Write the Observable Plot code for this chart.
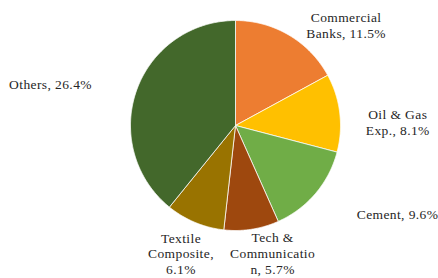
<!DOCTYPE html>
<html><head><meta charset="utf-8">
<script src="https://cdn.jsdelivr.net/npm/d3@7"></script>
<script src="https://cdn.jsdelivr.net/npm/@observablehq/plot@0.6"></script>
<style>body{margin:0;background:#fff;} svg{display:block;} svg text{font-family:"Liberation Serif","Times New Roman",serif !important;}</style>
</head><body><div id="chart"></div>
<script>
// ---- data ----
const sectors = ["Commercial Banks", "Oil & Gas Exp.", "Cement", "Tech & Communication", "Textile Composite", "Others"];
const shares = [11.5, 8.1, 9.6, 5.7, 6.1, 26.4];
const labelTexts = ["Commercial\nBanks, 11.5%", "Oil & Gas\nExp., 8.1%", "Cement, 9.6%", "Tech &\nCommunicatio\nn, 5.7%", "Textile\nComposite,\n6.1%", "Others, 26.4%"];

// ---- styles / layout ----
const colors = ["#ED7D31", "#FFC000", "#70AD47", "#9E480E", "#997300", "#43682B"];
const W = 438, H = 278, R = 105, cx = 235, cy = 125;
const labelOffsets = [[57, -10], [58, 9], [82, 20], [21, 24], [-14, 31], [-86, -7]];

const table = sectors.map((name, i) => ({name, value: shares[i], label: labelTexts[i]}));
const arcs = d3.pie().sort(null).value(d => d.value)(table);

const pts = [];
for (const a of arcs) {
  const n = Math.max(2, Math.ceil((a.endAngle - a.startAngle) / 0.01));
  pts.push({name: a.data.name, x: 0, y: 0});
  for (let k = 0; k <= n; k++) {
    const t = a.startAngle + (a.endAngle - a.startAngle) * k / n;
    pts.push({name: a.data.name, x: Math.sin(t), y: Math.cos(t)});
  }
  pts.push({name: a.data.name, x: 0, y: 0});
}

const labelMarks = arcs.map((a, i) => {
  const m = (a.startAngle + a.endAngle) / 2;
  return Plot.text([{x: Math.sin(m), y: Math.cos(m), label: a.data.label}], {
    x: "x", y: "y", text: "label",
    dx: labelOffsets[i][0], dy: labelOffsets[i][1],
    fontSize: 13.5, lineHeight: 1.18, fill: "#262626",
    fontFamily: "Liberation Serif"
  });
});

const chart = Plot.plot({
  width: W, height: H,
  margin: 0,
  style: {background: "#fff"},
  x: {domain: [-cx / R, (W - cx) / R], range: [0, W], axis: null},
  y: {domain: [-(H - cy) / R, cy / R], range: [H, 0], axis: null},
  color: {domain: sectors, range: colors},
  marks: [
    Plot.line(pts, {x: "x", y: "y", z: "name", fill: "name", stroke: "white", strokeWidth: 0.75, curve: "linear"}),
    ...labelMarks
  ]
});
chart.querySelectorAll("text").forEach(t => { t.style.letterSpacing = "0.4px"; t.style.fontFamily = "'Liberation Serif', serif"; });
document.getElementById("chart").append(chart);
</script>
</body></html>
